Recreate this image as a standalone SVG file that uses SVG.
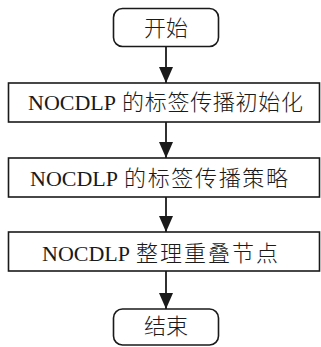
<svg xmlns="http://www.w3.org/2000/svg" width="321" height="347" viewBox="0 0 321 347">
<style>
.box{fill:#fff;stroke:#1a1a1a;stroke-width:1.6}
.lat{font-family:"Liberation Serif","Times New Roman",serif;font-size:22px;fill:#1a1a1a}
.cjk{font-family:"Noto Sans CJK SC","Noto Sans CJK JP",sans-serif;font-size:22px;font-weight:300;fill:#1a1a1a}
.edge{stroke:#1a1a1a;stroke-width:1.8;fill:none}
</style>
<defs>
<marker id="arr" markerUnits="userSpaceOnUse" markerWidth="18" markerHeight="16" refX="16" refY="8" orient="auto" viewBox="0 0 18 16">
<path d="M0,1 L16,8 L0,15 Z" fill="#1a1a1a"/>
</marker>
</defs>
<g id="edges">
<line class="edge" x1="166" y1="47" x2="166" y2="83" marker-end="url(#arr)"/>
<line class="edge" x1="166" y1="122" x2="166" y2="158" marker-end="url(#arr)"/>
<line class="edge" x1="166" y1="197" x2="166" y2="232" marker-end="url(#arr)"/>
<line class="edge" x1="166" y1="271" x2="166" y2="309" marker-end="url(#arr)"/>
</g>
<g id="start">
<rect class="box" x="113.5" y="8.5" width="105" height="38" rx="9"/>
<text class="cjk" x="166" y="36" text-anchor="middle">开始</text>
</g>
<g id="init">
<rect class="box" x="8.5" y="83" width="311" height="39"/>
<text y="110"><tspan class="lat" x="28">NOCDLP</tspan><tspan class="cjk" x="122" textLength="181" lengthAdjust="spacing">的标签传播初始化</tspan></text>
</g>
<g id="strategy">
<rect class="box" x="8.5" y="158" width="311" height="39"/>
<text y="186"><tspan class="lat" x="30">NOCDLP</tspan><tspan class="cjk" x="124" textLength="164" lengthAdjust="spacing">的标签传播策略</tspan></text>
</g>
<g id="overlap">
<rect class="box" x="8.5" y="232" width="311" height="39"/>
<text y="261"><tspan class="lat" x="42">NOCDLP</tspan><tspan class="cjk" x="136" textLength="142" lengthAdjust="spacing">整理重叠节点</tspan></text>
</g>
<g id="end">
<rect class="box" x="113.5" y="309" width="105" height="36" rx="9"/>
<text class="cjk" x="166" y="334" text-anchor="middle">结束</text>
</g>
</svg>
